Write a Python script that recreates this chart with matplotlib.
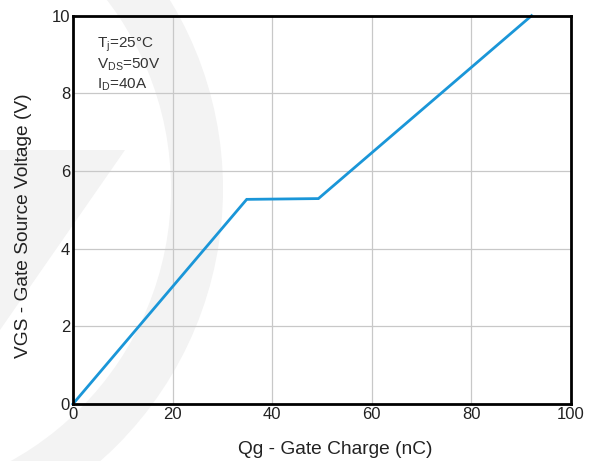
import matplotlib
matplotlib.use("Agg")
import matplotlib.pyplot as plt
from matplotlib.patches import Wedge, Polygon

# gate charge curve (Qg in nC, VGS in V)
qg = [0, 34.9, 49.3, 92.1]
vgs = [0, 5.27, 5.29, 10.0]

x_ticks = [0, 20, 40, 60, 80, 100]
y_ticks = [0, 2, 4, 6, 8, 10]

notes = [r"$\mathregular{T_j}$=25°C",
         r"$\mathregular{V_{DS}}$=50V",
         r"$\mathregular{I_D}$=40A"]

plt.rcParams["font.family"] = ["Liberation Sans", "DejaVu Sans"]
plt.rcParams["mathtext.fontset"] = "custom"
plt.rcParams["mathtext.rm"] = "Liberation Sans"

fig = plt.figure(figsize=(6.0, 4.61), dpi=100)

# faint watermark behind everything
bg = fig.add_axes([0, 0, 1, 1], zorder=-1)
bg.set_xlim(0, 600)
bg.set_ylim(461, 0)
bg.axis("off")
bg.add_patch(Wedge((-140, 189), 363, -90, 90, width=52,
                   facecolor="#f3f3f3", edgecolor="none"))
bg.add_patch(Polygon([(0, 150), (125, 150), (0, 330)],
                     facecolor="#f3f3f3", edgecolor="none"))

ax = fig.add_axes([0.1215, 0.1236, 0.830, 0.8424])
ax.set_facecolor("none")
ax.plot(qg, vgs, color="#1a96d8", linewidth=2.0, solid_joinstyle="miter",
        clip_on=False, zorder=3)

ax.set_xlim(0, 100)
ax.set_ylim(0, 10)
ax.set_xticks(x_ticks)
ax.set_yticks(y_ticks)
ax.tick_params(length=0, labelsize=12, labelcolor="#222222", pad=2)
ax.grid(True, color="#c8c8c8", linewidth=0.9)
ax.set_axisbelow(True)
for s in ax.spines.values():
    s.set_linewidth(2.0)
    s.set_color("black")
    s.set_zorder(4)

ax.set_xlabel("Qg - Gate Charge (nC)", fontsize=13.8, color="#222222")
ax.set_ylabel("VGS - Gate Source Voltage (V)", fontsize=13.8, color="#222222")
ax.xaxis.set_label_coords(0.526, -0.095)
ax.yaxis.set_label_coords(-0.082, 0.46)

for i, t in enumerate(notes):
    ax.text(0.048, 0.925 - i * 0.051, t, transform=ax.transAxes,
            fontsize=11, color="#333333", va="center", ha="left")

fig.savefig("out.png", dpi=100)
